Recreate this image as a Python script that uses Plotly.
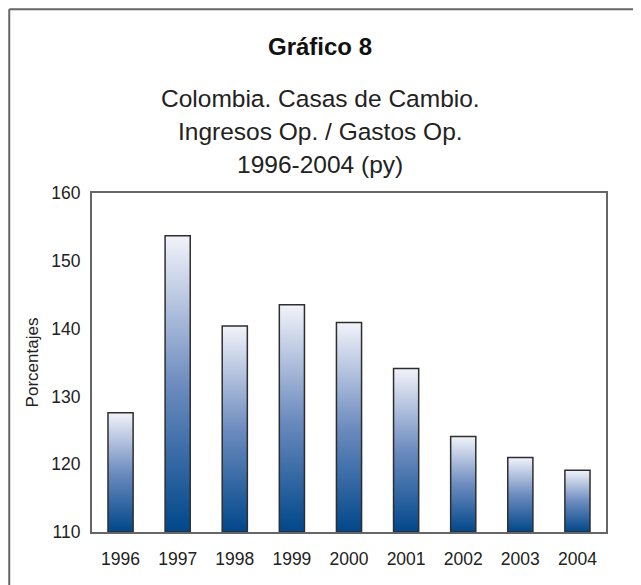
import plotly.graph_objects as go

years = ["1996", "1997", "1998", "1999", "2000", "2001", "2002", "2003", "2004"]
ratio = [127.6, 153.7, 140.4, 143.5, 140.9, 134.1, 124.1, 121.0, 119.1]
y_ticks = [110, 120, 130, 140, 150, 160]

title_main = "Gráfico 8"
title_lines = ["Colombia. Casas de Cambio.", "Ingresos Op. / Gastos Op.", "1996-2004 (py)"]
y_title = "Porcentajes"

base = y_ticks[0]
bar_w = 0.44
font_name = "Liberation Sans, Arial, sans-serif"

fig = go.Figure()

# each bar is a closed polygon so it can take its own vertical gradient
for i, v in enumerate(ratio):
    x0, x1 = i - bar_w / 2, i + bar_w / 2
    fig.add_trace(go.Scatter(
        x=[x0, x1, x1, x0, x0],
        y=[base, base, v, v, base],
        mode="lines",
        fill="toself",
        fillgradient=dict(
            type="vertical",
            colorscale=[[0, "#00478a"], [0.5, "#6d8cbf"], [1, "#f2f3fa"]],
        ),
        line=dict(color="#2e2e2e", width=1.5),
        hoverinfo="skip",
        showlegend=False,
    ))

fig.update_layout(
    width=641,
    height=585,
    margin=dict(l=84, r=43, t=185, b=61),
    paper_bgcolor="white",
    plot_bgcolor="white",
    font=dict(family=font_name, color="#222222", size=17),
    showlegend=False,
    xaxis=dict(
        range=[-0.5, len(years) - 0.5],
        tickvals=list(range(len(years))),
        ticktext=years,
        showgrid=False,
        zeroline=False,
        showline=True,
        linecolor="#666666",
        linewidth=2,
        mirror=True,
        ticks="",
        ticklabelstandoff=10,
        tickfont=dict(size=17.5, color="#222222"),
        fixedrange=True,
    ),
    yaxis=dict(
        range=[base, y_ticks[-1]],
        tickvals=y_ticks,
        showgrid=False,
        zeroline=False,
        showline=True,
        linecolor="#666666",
        linewidth=2,
        mirror=True,
        ticks="",
        ticklabelstandoff=6,
        tickfont=dict(size=17.5, color="#222222"),
        title=dict(text=y_title, font=dict(size=17, color="#222222"), standoff=8),
        fixedrange=True,
    ),
)

# titles
fig.add_annotation(
    text="<b>" + title_main + "</b>",
    xref="paper", yref="paper", x=0.4436, y=1.4307,
    showarrow=False, xanchor="center", yanchor="middle",
    font=dict(size=24, color="#111111"),
)
for k, line in enumerate(title_lines):
    fig.add_annotation(
        text=line,
        xref="paper", yref="paper", x=0.4436, y=1.2802 - k * 0.0988,
        showarrow=False, xanchor="center", yanchor="middle",
        font=dict(size=24.5, color="#222222"),
    )

# outer frame (top and left edges only visible)
fig.add_shape(type="line", xref="paper", yref="paper",
              x0=-0.161, x1=1.1, y0=1.542, y1=1.542,
              line=dict(color="#666666", width=2))
fig.add_shape(type="line", xref="paper", yref="paper",
              x0=-0.161, x1=-0.161, y0=1.542, y1=-0.2,
              line=dict(color="#666666", width=2))

fig.write_html("out.html")
